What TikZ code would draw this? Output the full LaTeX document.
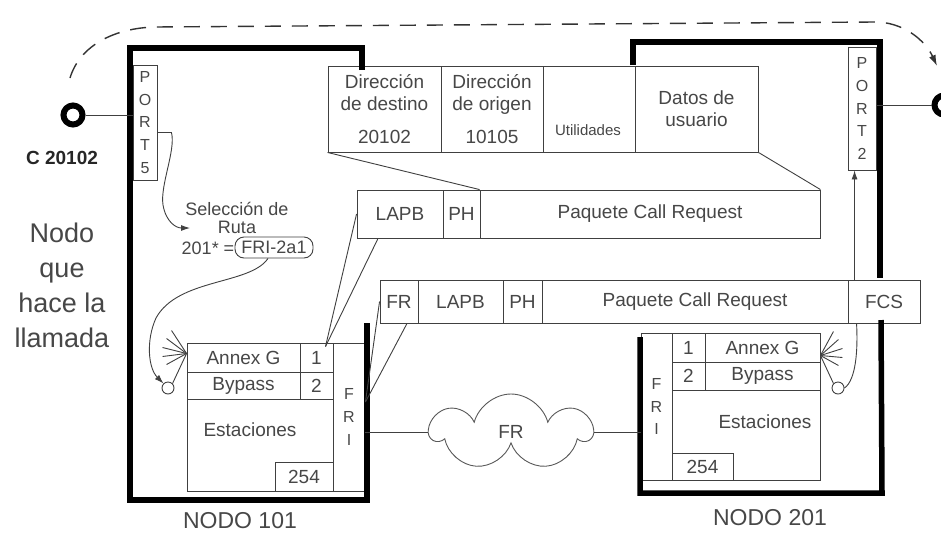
\documentclass[tikz,border=0pt]{standalone}
\usepackage{fontspec}
\setmainfont{Liberation Sans}
\usepackage{tikz}
\usetikzlibrary{arrows.meta,shapes.symbols}

\begin{document}
\begin{tikzpicture}[
    x=1pt, y=-1pt,
    font=\fontsize{19}{22}\selectfont,
    lbl/.style={text=black!72, inner sep=0pt},
    cell/.style={draw=black!75, line width=0.9pt, inner sep=0pt, text=black!72, align=center},
    portcol/.style={cell, font=\fontsize{16}{22.7}\selectfont},
    wire/.style={draw=black!75, line width=0.9pt},
    arrow/.style={wire, -{Latex[length=9pt, width=6pt]}},
    nodeborder/.style={draw=black, line width=5.5pt},
    dashedarc/.style={draw=black!80, line width=1.4pt, dash pattern=on 16pt off 11pt, -{Latex[length=11pt, width=7pt]}},
    terminal/.style={draw=black, line width=6pt, circle, minimum size=19pt, inner sep=0pt},
    tap/.style={draw=black!75, line width=0.9pt, circle, minimum size=12pt, inner sep=0pt}
]
\useasboundingbox[fill=white] (0,0) rectangle (941,536);

% address frame
\node[cell, minimum width=113pt, minimum height=86pt] (dst) at (384.5,109) {Dirección\\de destino\\[11pt]20102};
\node[cell, minimum width=102pt, minimum height=86pt] (org) at (492,109) {Dirección\\de origen\\[11pt]10105};
\node[cell, minimum width=92pt, minimum height=86pt] (util) at (589,109) {};
\node[lbl, font=\fontsize{15}{17}\selectfont] (utiltxt) at (588,130) {Utilidades};
\node[cell, minimum width=123pt, minimum height=86pt] (dat) at (696.5,109) {Datos de\\usuario};

% call request packet (LAPB)
\node[cell, minimum width=86pt, minimum height=48pt] (lapb1) at (400,214) {LAPB};
\node[cell, minimum width=37pt, minimum height=48pt] (ph1) at (461.5,214) {PH};
\node[cell, minimum width=340pt, minimum height=48pt] (pcr1) at (650,214) {Paquete Call Request};

% call request packet (FR)
\node[cell, minimum width=38pt, minimum height=43pt] (fr2) at (399,301.5) {FR};
\node[cell, minimum width=85pt, minimum height=43pt] (lapb2) at (460.5,301.5) {LAPB};
\node[cell, minimum width=39pt, minimum height=43pt] (ph2) at (522.5,301.5) {PH};
\node[cell, minimum width=306pt, minimum height=43pt] (pcr2) at (695,301.5) {Paquete Call Request};
\node[cell, minimum width=72pt, minimum height=43pt] (fcs2) at (884,301.5) {FCS};

% ports
\node[portcol, minimum width=24pt, minimum height=115pt] (port5) at (145,122.5) {P\\O\\R\\T\\5};
\node[portcol, minimum width=28pt, minimum height=123pt] (port2) at (862,108.5) {P\\O\\R\\T\\2};

% table of node 101
\node[portcol, minimum width=32pt, minimum height=148pt] (fri1) at (349,417) {F\\R\\I};
\node[cell, minimum width=146pt, minimum height=92pt] (est1) at (260,445) {};
\node[lbl] (esttxt1) at (250,430) {Estaciones};
\node[cell, minimum width=113pt, minimum height=29pt] (annex1) at (243.5,357.5) {Annex G};
\node[cell, minimum width=33pt, minimum height=29pt] (n1a) at (316.5,357.5) {1};
\node[cell, minimum width=113pt, minimum height=27pt] (bypass1) at (243.5,385.5) {Bypass};
\node[cell, minimum width=33pt, minimum height=27pt] (n2a) at (316.5,385.5) {2};
\node[cell, minimum width=58pt, minimum height=29pt] (n254a) at (304,476.5) {254};

% table of node 201
\node[portcol, minimum width=31pt, minimum height=147pt] (fri2) at (656.5,406.5) {F\\R\\I};
\node[cell, minimum width=148pt, minimum height=90pt] (est2) at (746,435) {};
\node[lbl] (esttxt2) at (765,422) {Estaciones};
\node[cell, minimum width=33pt, minimum height=29pt] (n1b) at (688.5,347.5) {1};
\node[cell, minimum width=115pt, minimum height=29pt] (annex2) at (762.5,347.5) {Annex G};
\node[cell, minimum width=33pt, minimum height=28pt] (n2b) at (688.5,376) {2};
\node[cell, minimum width=115pt, minimum height=28pt] (bypass2) at (762.5,376) {Bypass};
\node[cell, minimum width=61pt, minimum height=27pt] (n254b) at (702.5,466.5) {254};

% node borders
\draw[nodeborder] (362,70) -- (362,48) -- (130,48) -- (130,500) -- (367,500) -- (367,323);
\draw[nodeborder] (633,65) -- (633,42) -- (880,42) -- (880,278);
\draw[nodeborder] (881,320) -- (882,493) -- (640,493) -- (640,337);

% route selection
\node[lbl, align=center, font=\fontsize{18}{18}\selectfont] (sel) at (237,218) {Selección de\\Ruta};
\node[lbl, font=\fontsize{18}{20}\selectfont] (eqtxt) at (208,248) {201* =};
\node[cell, rounded corners=9pt, minimum width=78pt, minimum height=21pt, font=\fontsize{18}{20}\selectfont] (rbox) at (274,247.5) {FRI-2a1};
\coordinate (selin) at (190,228);

% taps
\node[tap] (circ1) at (168,388) {};
\node[tap] (circ2) at (838,388) {};
\coordinate (fan1) at ([yshift=4pt]annex1.west);
\coordinate (fan2) at ([yshift=-8pt]annex2.east);
\foreach \dx/\dy in {-15/-23, -20/-15, -24/-6, -24/3, -20/11}
  \draw[wire] (fan1) -- ++(\dx,\dy);
\draw[wire] (fan1) -- (circ1.north east);
\foreach \dx/\dy in {13/-24, 18/-16, 22/-7, 22/2, 18/10}
  \draw[wire] (fan2) -- ++(\dx,\dy);
\draw[wire] (fan2) -- (circ2.north west);

% terminals
\node[terminal] (term1) at (73,115) {};
\node[terminal] (term2) at (944,105) {};
\draw[wire] (term1.east) -- (term1.east -| port5.west);
\draw[wire] (term2.west -| port2.east) -- (term2.west);

% frame relay cloud
\node[cloud, cloud puffs=7, aspect=2.2, draw=black!65, line width=0.9pt, minimum width=160pt, minimum height=76pt, lbl] (frnet) at (511,432) {FR};
\draw[wire] (frnet.west -| fri1.east) -- (frnet.west);
\draw[wire] (frnet.east) -- (frnet.east -| fri2.west);

% connectors
\draw[wire] (dst.south west) -- (pcr1.north west);
\draw[wire] (dat.south east) -- (pcr1.north east);
\draw[wire] (lapb1.west) -- ([xshift=9pt,yshift=-4pt]n1a.north);
\draw[wire] ([xshift=-22pt]lapb1.south) -- ([xshift=9pt,yshift=-4pt]n1a.north);
\draw[wire] (fr2.west) -- ([yshift=15pt]fri1.east);
\draw[wire] ([xshift=8pt]fr2.south) -- ([yshift=15pt]fri1.east);
\draw[arrow] ([yshift=-10pt]port5.east) -- ++(14,0) .. controls (176,150) and (160,185) .. (163,205) .. controls (166,222) and (176,228) .. (selin);
\draw[arrow] ([xshift=-6pt]rbox.south) .. controls (250,285) and (178,278) .. (156,318) .. controls (146,340) and (148,368) .. (circ1.north west);
\draw[wire] ([xshift=9pt]fcs2.south west) .. controls (858,350) and (856,380) .. (circ2.east);
\draw[arrow] ([xshift=7pt]fcs2.north west) -- ([xshift=7pt]fcs2.north west |- port2.south);

% call path
\coordinate (arcstart) at (70,78);
\coordinate (arcend) at (937,66);
\draw[dashedarc] (arcstart) .. controls (80,45) and (115,28) .. (155,27) -- (875,22) .. controls (903,22) and (925,40) .. (arcend);

% labels
\node[lbl, text=black!85, font=\bfseries\fontsize{19}{22}\selectfont] (cname) at (62,158) {C 20102};
\node[lbl, align=center, font=\fontsize{27}{35}\selectfont] (caller) at (62,285) {Nodo\\que\\hace la\\llamada};
\node[lbl, font=\fontsize{23}{26}\selectfont] (n101) at (240,521) {NODO 101};
\node[lbl, font=\fontsize{23}{26}\selectfont] (n201) at (770,518) {NODO 201};
\end{tikzpicture}
\end{document}
